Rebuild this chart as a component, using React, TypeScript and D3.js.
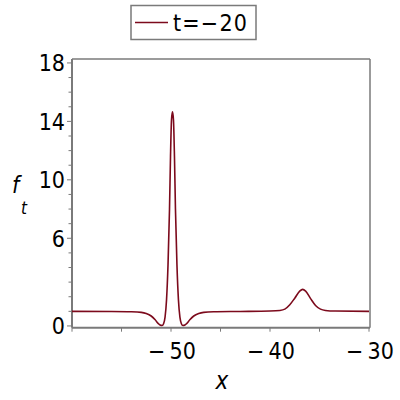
import React from 'react';
import * as d3 from 'd3';

// curve f_t(x) at t = -20
const xs = [
  -60, -56, -54, -53, -52.5, -52, -51.6, -51.3, -51.1, -50.9, -50.75, -50.6, -50.45, -50.3,
  -50.15, -50.05, -49.95, -49.85, -49.75, -49.65, -49.55, -49.4, -49.25, -49.1, -48.95,
  -48.8, -48.6, -48.4, -48.1, -47.7, -47.2, -46.7, -45.7, -43, -40, -39, -38.5, -38,
  -37.5, -37, -36.7, -36.4, -35.9, -35.4, -34.9, -34.4, -33.4, -30,
];
const ys = [
  1.0, 0.99, 0.97, 0.93, 0.85, 0.68, 0.42, 0.18, 0.06, 0.03, 0.15, 0.6, 1.8, 4.2,
  8.0, 11.6, 14.1, 14.65, 14.1, 11.6, 8.0, 4.2, 1.8, 0.6, 0.15,
  0.03, 0.06, 0.18, 0.42, 0.68, 0.85, 0.93, 0.97, 0.99, 1.02, 1.06, 1.15, 1.45,
  1.9, 2.38, 2.5, 2.38, 1.87, 1.4, 1.15, 1.06, 1.02, 1.0,
];
const xTicks = [-60, -55, -50, -45, -40, -35, -30];
const xLabels = [-50, -40, -30];
const yTicks = d3.range(0, 19, 1);
const yLabels = [0, 6, 10, 14, 18];
const legendLabel = 't=\u221220';

const color = '#7c0a1c';
const axisColor = '#7a7a7a';
const font = '"DejaVu Sans Condensed", "DejaVu Sans", sans-serif';

export default function App() {
  const left = 72, right = 369, top = 59, axisY = 327.7;
  const x = d3.scaleLinear().domain([-60, -30]).range([left, right]);
  const y = d3.scaleLinear().domain([-0.12, 18.27]).range([axisY, top]);
  const pts = xs.map((v, i) => [v, ys[i]] as [number, number]);
  const line = d3.line<[number, number]>()
    .x((d) => x(d[0]))
    .y((d) => y(d[1]))
    .curve(d3.curveMonotoneX);
  const minus = (v: number) => (v < 0 ? '\u2212\u2009' + Math.abs(v) : String(v));

  return (
    <svg width={400} height={400} style={{ position: 'absolute', left: 0, top: 0 }}>
      <rect width={400} height={400} fill="#fff" />
      {/* frame */}
      <line x1={left} x2={right + 1} y1={top} y2={top} stroke={axisColor} strokeWidth={1.5} />
      <line x1={right + 1} x2={right + 1} y1={top} y2={axisY} stroke={axisColor} strokeWidth={1.5} />
      <line x1={left} x2={left} y1={top} y2={axisY} stroke={axisColor} strokeWidth={2} />
      <line x1={left} x2={right + 1} y1={axisY} y2={axisY} stroke={axisColor} strokeWidth={2} />
      {/* y ticks */}
      {yTicks.map((t) => (
        <line key={'yt' + t} x1={left - (yLabels.includes(t) ? 5 : 3.5)} x2={left} y1={y(t)} y2={y(t)} stroke={axisColor} strokeWidth={1} />
      ))}
      {yLabels.map((t) => (
        <text key={'yl' + t} x={65} y={y(t)} dy="0.36em" textAnchor="end" fontFamily={font} fontSize={23} fill="#000">
          {t}
        </text>
      ))}
      {/* x ticks */}
      {xTicks.map((t) => (
        <line key={'xt' + t} x1={x(t)} x2={x(t)} y1={axisY} y2={axisY + 4} stroke={axisColor} strokeWidth={1} />
      ))}
      {xLabels.map((t) => (
        <text key={'xl' + t} x={x(t) + 1} y={359} textAnchor="middle" fontFamily={font} fontSize={23} fill="#000">
          {minus(t)}
        </text>
      ))}
      {/* axis titles */}
      <text x={222} y={389} textAnchor="middle" fontFamily={font} fontSize={24} fontStyle="italic" fill="#000">x</text>
      <text x={12} y={193} fontFamily={font} fontSize={23} fontStyle="italic" fill="#000">f</text>
      <text x={21} y={214} fontFamily={font} fontSize={17} fontStyle="italic" fill="#000">t</text>
      {/* curve */}
      <path d={line(pts) ?? ''} fill="none" stroke={color} strokeWidth={1.6} />
      {/* legend */}
      <rect x={131} y={5.5} width={125} height={34} fill="#fff" stroke={axisColor} strokeWidth={1.5} />
      <line x1={135} x2={168} y1={22.5} y2={22.5} stroke={color} strokeWidth={1.6} />
      <text x={173} y={31} fontFamily={font} fontSize={23} letterSpacing={1.2} fill="#000">{legendLabel}</text>
    </svg>
  );
}
